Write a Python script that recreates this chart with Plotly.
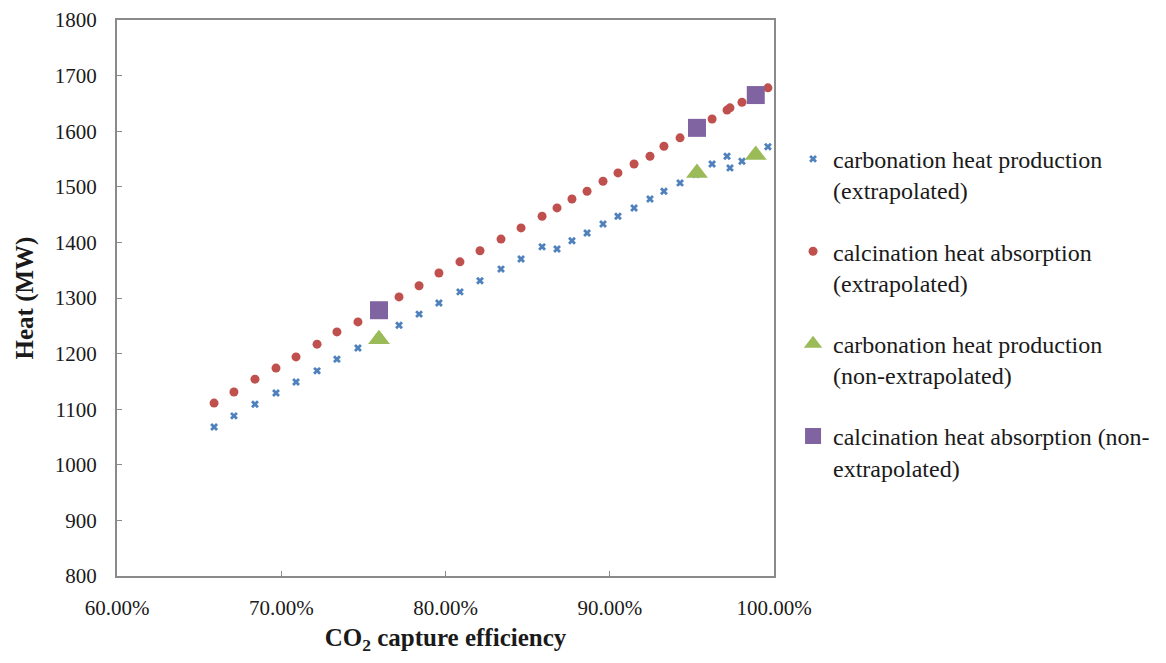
import plotly.graph_objects as go

# CO2 capture efficiency (fraction) for the extrapolated series
efficiency = [0.6591, 0.6712, 0.6840, 0.6968, 0.7090, 0.7218, 0.7339, 0.7467,
              0.7595, 0.7717, 0.7839, 0.7960, 0.8088, 0.8210, 0.8338, 0.8460,
              0.8588, 0.8679, 0.8770, 0.8862, 0.8959, 0.9050, 0.9148, 0.9245,
              0.9330, 0.9428, 0.9525, 0.9623, 0.9714, 0.9732, 0.9805, 0.9963]
carbonation_extrap = [1068, 1088, 1109, 1129, 1149, 1169, 1190, 1210,
                      1230, 1251, 1271, 1291, 1311, 1331, 1352, 1370,
                      1392, 1388, 1403, 1417, 1433, 1447, 1462, 1478,
                      1492, 1507, 1522, 1541, 1555, 1534, 1546, 1572]
calcination_extrap = [1111, 1131, 1154, 1174, 1194, 1217, 1239, 1257,
                      1278, 1302, 1322, 1345, 1365, 1385, 1406, 1426,
                      1447, 1462, 1478, 1492, 1510, 1525, 1541, 1555,
                      1573, 1588, 1604, 1622, 1638, 1642, 1652, 1678]

# non-extrapolated points
efficiency_nonext = [0.7595, 0.9531, 0.9889]
carbonation_nonext = [1226, 1525, 1557]
calcination_nonext = [1278, 1606, 1665]

names = [
    "carbonation heat production<br>(extrapolated)",
    "calcination heat absorption<br>(extrapolated)",
    "carbonation heat production<br>(non-extrapolated)",
    "calcination heat absorption (non-<br>extrapolated)",
]

FONT = "Liberation Serif, Times New Roman, serif"

fig = go.Figure()
fig.add_trace(go.Scatter(x=efficiency, y=carbonation_extrap, mode="markers",
                         name=names[0], legendgroup="a",
                         marker=dict(symbol="x", size=7, color="#4F81BD")))
fig.add_trace(go.Scatter(x=efficiency, y=calcination_extrap, mode="markers",
                         name=names[1], legendgroup="b",
                         marker=dict(symbol="circle", size=9, color="#C0504D")))
fig.add_trace(go.Scatter(x=efficiency_nonext, y=carbonation_nonext, mode="markers",
                         name=names[2], legendgroup="c",
                         marker=dict(symbol="triangle-up", size=19, color="#9BBB59")))
fig.add_trace(go.Scatter(x=efficiency_nonext, y=calcination_nonext, mode="markers",
                         name=names[3], legendgroup="d",
                         marker=dict(symbol="square", size=18, color="#8064A2")))

axis_common = dict(showline=True, linecolor="#8a8a8a", linewidth=2, mirror=True,
                   ticks="inside", ticklen=5, tickcolor="#8a8a8a", tickwidth=1,
                   showgrid=False, zeroline=False, automargin=True,
                   tickfont=dict(family=FONT, size=21, color="#1a1a1a"))

fig.update_layout(
    width=1150, height=647,
    margin=dict(l=109, r=384, t=12, b=79, autoexpand=False),
    paper_bgcolor="white", plot_bgcolor="white",
    font=dict(family=FONT, color="#1a1a1a"),
    xaxis=dict(range=[0.6, 1.0], dtick=0.1, tick0=0.6, tickformat=".2%",
               ticklabelstandoff=12,
               title=dict(text="<b>CO<sub>2</sub> capture efficiency</b>",
                          font=dict(family=FONT, size=25, color="#1a1a1a"),
                          standoff=14),
               **axis_common),
    yaxis=dict(range=[800, 1800], dtick=100,
               ticklabelstandoff=14,
               title=dict(text="<b>Heat (MW)</b>",
                          font=dict(family=FONT, size=25, color="#1a1a1a"),
                          standoff=14),
               **axis_common),
    legend=dict(x=1.029, xanchor="left", y=0.79, yanchor="top",
                traceorder="grouped", tracegroupgap=27, valign="top",
                font=dict(family=FONT, size=24, color="#1a1a1a"),
                bgcolor="rgba(0,0,0,0)"),
    showlegend=True,
)

fig.write_html("out.html")
